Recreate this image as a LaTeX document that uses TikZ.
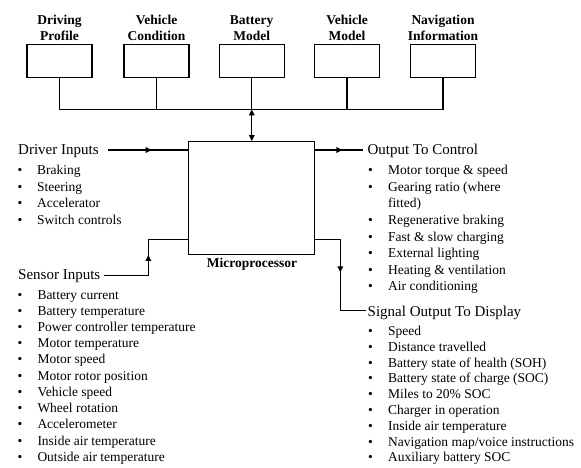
\documentclass[tikz,border=0pt]{standalone}
\usepackage{fontspec}
\setmainfont{Liberation Serif}
\usetikzlibrary{arrows.meta,decorations.markings}

\tikzset{
  wire/.style={line width=1.3pt, line cap=butt},
  tip/.tip={Triangle[length=6pt,width=5.5pt]},
  midarrow/.style={postaction={decorate},
    decoration={markings, mark=at position #1 with {\arrow{tip}}}},
  modbox/.style={draw, line width=1.2pt, minimum width=65pt, minimum height=33.4pt, inner sep=0pt},
  procbox/.style={draw, line width=1.3pt, minimum width=126pt, minimum height=112.6pt, inner sep=0pt},
  modlabel/.style={font=\fontsize{13.5}{16}\selectfont\bfseries, anchor=base, inner sep=0pt},
  heading/.style={font=\fontsize{15}{18}\selectfont, anchor=base west, inner sep=0pt},
  item/.style={font=\fontsize{13.5}{16}\selectfont, anchor=base west, inner sep=0pt},
  bul/.style={font=\fontsize{13.5}{16}\selectfont, anchor=base, inner sep=0pt},
}

\begin{document}
\begin{tikzpicture}[x=1pt,y=-1pt]
\fill[white] (0,0) rectangle (581,468);
\useasboundingbox (0,0) rectangle (581,468);

% model / information blocks along the top
\foreach \n/\x/\la/\lb in {1/59.5/Driving/Profile, 2/156.5/Vehicle/Condition,
    3/251.7/Battery/Model, 4/347/Vehicle/Model, 5/443/Navigation/Information} {
  \node[modbox] (m\n) at (\x,61) {};
  \node[modlabel] (m\n a) at (\x,25) {\la};
  \node[modlabel] (m\n b) at (\x,41) {\lb};
}

% microprocessor
\node[procbox] (mp) at (251.8,198) {};
\node[modlabel] (mplabel) at (252,267.5) {Microprocessor};

% common bus joining the blocks
\coordinate (bus) at (0,109.3);
\draw[wire] (m1.south) -- (m1.south |- bus) -| (m5.south);
\foreach \n in {2,3,4} \draw[wire] (m\n.south) -- (m\n.south |- bus);
\draw[wire,{tip}-{tip}] (mp.north |- bus) -- (mp.north);

% headings
\node[heading] (drvhead) at (18,155) {Driver Inputs};
\node[heading] (senhead) at (18,279.3) {Sensor Inputs};
\node[heading] (ctlhead) at (367.3,155) {Output To Control};
\node[heading] (sighead) at (367.5,316.5) {Signal Output To Display};

% connectors
\coordinate (drvin) at (108.3,150);
\draw[wire,midarrow=43.4pt] (drvin) -- (drvin -| mp.west);

\coordinate (senin) at (104.3,275.3);
\coordinate (senbend) at (148.3,239.3);
\draw[wire,midarrow=64.5pt] (senin) -| (senbend) -- (senbend -| mp.west);

\coordinate (ctlout) at (363.3,150);
\draw[wire,midarrow=27pt] (ctlout -| mp.east) -- (ctlout);

\coordinate (sigbend) at (340.3,239.3);
\coordinate (sigout) at (366,310.3);
\draw[wire,midarrow=58pt] (sigbend -| mp.east) -- (sigbend) |- (sigout);

% driver inputs
\foreach \t [count=\i] in {Braking, Steering, Accelerator, Switch controls} {
  \node[bul] (drvb\i) at (20,174.8+16.5*\i-16.5) {\textbullet};
  \node[item] (drv\i) at (37,174.8+16.5*\i-16.5) {\t};
}

% sensor inputs
\foreach \t [count=\i] in {Battery current, Battery temperature,
    Power controller temperature, Motor temperature, Motor speed,
    Motor rotor position, Vehicle speed, Wheel rotation, Accelerometer,
    Inside air temperature, Outside air temperature} {
  \node[bul] (senb\i) at (20,299+16.24*\i-16.24) {\textbullet};
  \node[item] (sen\i) at (37.3,299+16.24*\i-16.24) {\t};
}

% outputs to control
\foreach \k/\t [count=\i] in {0/Motor torque \& speed, 1/Gearing ratio (where,
    3/Regenerative braking, 4/Fast \& slow charging, 5/External lighting,
    6/Heating \& ventilation, 7/Air conditioning} {
  \node[bul] (ctlb\i) at (370.5,174.8+16.57*\k) {\textbullet};
  \node[item] (ctl\i) at (388,174.8+16.57*\k) {\t};
}
\node[item] (ctlcont) at (388,174.8+16.57*2) {fitted)};

% signals to the display
\foreach \t [count=\i] in {Speed, Distance travelled,
    Battery state of health (SOH), Battery state of charge (SOC),
    Miles to 20\% SOC, Charger in operation, Inside air temperature,
    Navigation map/voice instructions, Auxiliary battery SOC} {
  \node[bul] (sigb\i) at (370.5,335.5+15.8*\i-15.8) {\textbullet};
  \node[item] (sig\i) at (388,335.5+15.8*\i-15.8) {\t};
}
\end{tikzpicture}
\end{document}
